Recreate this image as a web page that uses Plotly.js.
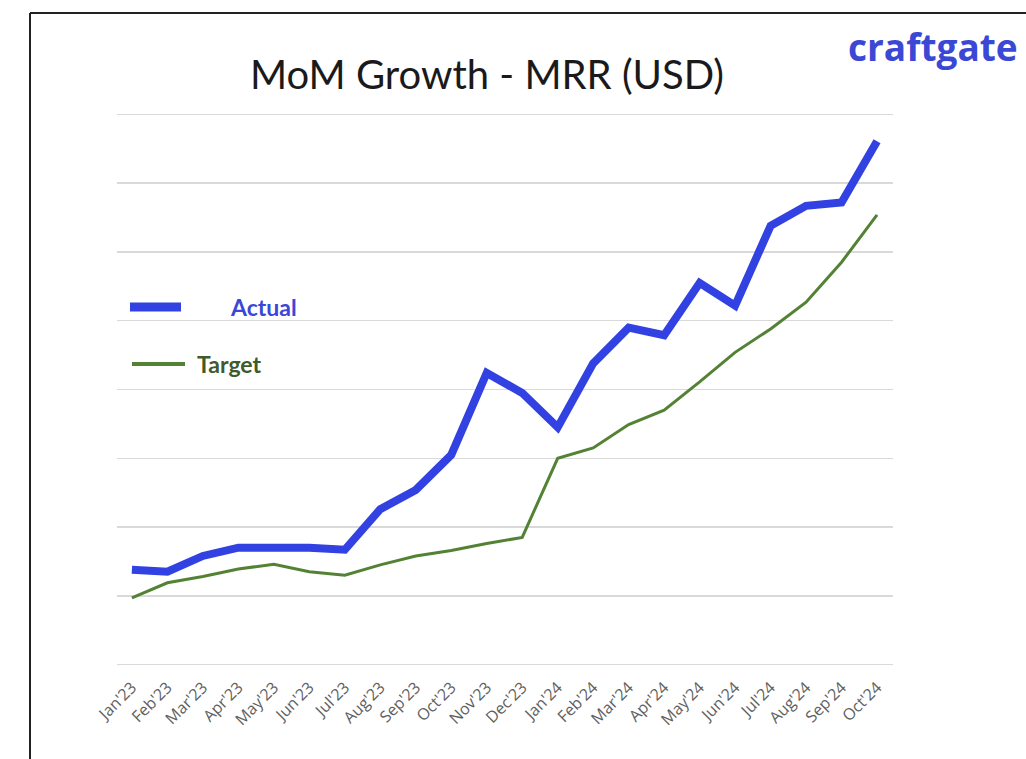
<!DOCTYPE html>
<html>
<head>
<meta charset="utf-8">
<script src="https://cdn.plot.ly/plotly-3.0.1.min.js"></script>
<style>
  html, body { margin: 0; padding: 0; background: #fff; }
  #grafico { width: 1026px; height: 759px; }
</style>
</head>
<body>
<div id="grafico"></div>
<script>
// --- Dados ---
const meses = [
  "Jan'23", "Feb'23", "Mar'23", "Apr'23", "May'23", "Jun'23", "Jul'23",
  "Aug'23", "Sep'23", "Oct'23", "Nov'23", "Dec'23",
  "Jan'24", "Feb'24", "Mar'24", "Apr'24", "May'24", "Jun'24", "Jul'24",
  "Aug'24", "Sep'24", "Oct'24"
];
const actual = [
  1.38, 1.35, 1.58, 1.70, 1.70, 1.70, 1.67, 2.26, 2.54, 3.05, 4.24, 3.95,
  3.45, 4.38, 4.90, 4.79, 5.55, 5.22, 6.38, 6.67, 6.72, 7.61
];
const target = [
  0.97, 1.19, 1.28, 1.39, 1.46, 1.35, 1.30, 1.45, 1.58, 1.66, 1.76, 1.85,
  3.00, 3.15, 3.49, 3.70, 4.11, 4.54, 4.88, 5.27, 5.85, 6.54
];

// --- Layout em pixels -> coordenadas "paper" ---
const W = 1026, H = 759;
const M = { l: 117, r: 133, t: 113, b: 93 };
const px = (x) => (x - M.l) / (W - M.l - M.r);
const py = (y) => (H - M.b - y) / (H - M.t - M.b);

const azul = "#3141e2";
const verde = "#548235";

const traceActual = {
  x: meses.map((_, i) => i),
  y: actual,
  type: "scatter",
  mode: "lines",
  name: "Actual",
  line: { color: azul, width: 8 },
  hoverinfo: "x+y",
};

const traceTarget = {
  x: meses.map((_, i) => i),
  y: target,
  type: "scatter",
  mode: "lines",
  name: "Target",
  line: { color: verde, width: 3 },
  hoverinfo: "x+y",
};

const layout = {
  width: W,
  height: H,
  paper_bgcolor: "#fff",
  plot_bgcolor: "#fff",
  showlegend: false,
  margin: M,
  font: { family: "Lato, 'Open Sans', sans-serif", color: "#595959" },
  title: {
    text: "MoM Growth - MRR (USD)",
    font: { family: "Lato, sans-serif", size: 40, color: "#1a1a1a" },
    x: 487 / W,
    xanchor: "center",
    y: 1 - 75 / H,
    yanchor: "middle",
  },
  xaxis: {
    range: [-0.42, 21.45],
    tickmode: "array",
    tickvals: meses.map((_, i) => i),
    ticktext: meses,
    tickangle: -45,
    tickfont: { family: "'Open Sans', sans-serif", size: 16, color: "#606060" },
    ticklabelstandoff: 8,
    showgrid: false,
    zeroline: false,
    showline: false,
    ticks: "",
    fixedrange: true,
  },
  yaxis: {
    range: [-0.02, 8.02],
    dtick: 1,
    tick0: 0,
    showticklabels: false,
    gridcolor: "#d9d9d9",
    gridwidth: 1.5,
    zeroline: false,
    showline: false,
    ticks: "",
    fixedrange: true,
  },
  shapes: [
    // moldura
    { type: "line", xref: "paper", yref: "paper", x0: px(30), x1: px(1040), y0: py(13), y1: py(13), line: { color: "#222", width: 2 } },
    { type: "line", xref: "paper", yref: "paper", x0: px(30), x1: px(30), y0: py(13), y1: py(770), line: { color: "#222", width: 2 } },
    // legenda
    { type: "line", xref: "paper", yref: "paper", x0: px(130), x1: px(181), y0: py(307), y1: py(307), line: { color: azul, width: 9 } },
    { type: "line", xref: "paper", yref: "paper", x0: px(132), x1: px(185), y0: py(364), y1: py(364), line: { color: verde, width: 4 } },
  ],
  annotations: [
    {
      text: "<b>Actual</b>", xref: "paper", yref: "paper",
      x: px(228), y: py(307), xanchor: "left", yanchor: "middle", showarrow: false,
      font: { family: "Lato, sans-serif", size: 23, color: "#3a47d8" },
    },
    {
      text: "<b>Target</b>", xref: "paper", yref: "paper",
      x: px(195), y: py(364), xanchor: "left", yanchor: "middle", showarrow: false,
      font: { family: "Lato, sans-serif", size: 23, color: "#3f5a2c" },
    },
    {
      text: "<b>craftgate</b>", xref: "paper", yref: "paper",
      x: px(846), y: py(47), xanchor: "left", yanchor: "middle", showarrow: false,
      font: { family: "'Open Sans', sans-serif", size: 37, color: "#3b48d6" },
    },
  ],
};

Plotly.newPlot("grafico", [traceActual, traceTarget], layout, { displayModeBar: false, staticPlot: true });
</script>
</body>
</html>
